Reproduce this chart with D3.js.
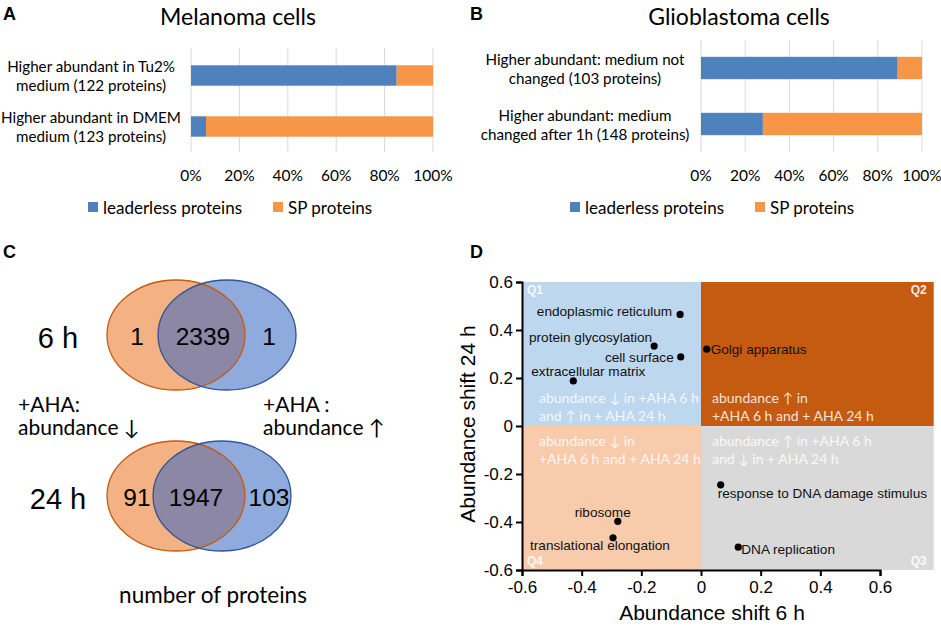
<!DOCTYPE html>
<html>
<head>
<meta charset="utf-8">
<script src="https://cdn.jsdelivr.net/npm/d3@7"></script>
<style>
  body { margin: 0; background: #fff; }
  text { font-family: Lato, "Open Sans", sans-serif; }
  .arial { font-family: "Liberation Sans", Arial, sans-serif; }
</style>
</head>
<body>
<script>
const width = 941
const height = 626

// ---- data ----
const seriesNames = ['leaderless proteins', 'SP proteins']
const seriesColors = ['#4f81bd', '#f79646']
const pctTicks = [0, 0.2, 0.4, 0.6, 0.8, 1]

const melanomaCats = [['Higher abundant in Tu2%', 'medium (122 proteins)'],
                      ['Higher abundant in DMEM', 'medium (123 proteins)']]
const melanomaLeaderless = [0.85, 0.062]

const gbmCats = [['Higher abundant: medium not', 'changed (103 proteins)'],
                 ['Higher abundant: medium', 'changed after 1h (148 proteins)']]
const gbmLeaderless = [0.89, 0.28]

const vennTimes = ['6 h', '24 h']
const vennDown = [1, 91]      // +AHA abundance down only
const vennBoth = [2339, 1947]
const vennUp = [1, 103]       // +AHA abundance up only

const goTerms = ['endoplasmic reticulum', 'protein glycosylation', 'cell surface', 'extracellular matrix',
  'Golgi apparatus', 'response to DNA damage stimulus', 'ribosome', 'translational elongation', 'DNA replication']
const shift6h = [-0.07, -0.157, -0.068, -0.428, 0.019, 0.066, -0.279, -0.295, 0.125]
const shift24h = [0.465, 0.333, 0.288, 0.188, 0.32, -0.245, -0.397, -0.466, -0.505]
const axisTicks = [-0.6, -0.4, -0.2, 0, 0.2, 0.4, 0.6]

const svg = d3.select('body').append('svg')
  .attr('width', width)
  .attr('height', height)

function letter(x, y, s) {
  svg.append('text').attr('class', 'arial').attr('x', x).attr('y', y)
    .attr('font-size', 18).attr('font-weight', 'bold').text(s)
}

// ---- panels A and B: stacked percentage bars ----
function barPanel(opt) {
  const g = svg.append('g')
  const x = d3.scaleLinear().domain([0, 1]).range(opt.xr)
  const y = d3.scaleBand().domain(d3.range(opt.cats.length)).range(opt.yr)
    .paddingInner(0.6).paddingOuter(0.3)

  g.append('text').attr('x', opt.titleX).attr('y', 16).attr('text-anchor', 'middle')
    .attr('dominant-baseline', 'central').attr('font-size', 23).text(opt.title)

  g.selectAll('line.grid').data(pctTicks).join('line').attr('class', 'grid')
    .attr('x1', d => x(d)).attr('x2', d => x(d))
    .attr('y1', opt.gridTop).attr('y2', 152)
    .attr('stroke', '#d9d9d9').attr('stroke-width', 1)

  const rows = opt.vals.map((v, i) => ({ i, parts: [[0, v], [v, 1]] }))
  const row = g.selectAll('g.row').data(rows).join('g').attr('class', 'row')
  row.selectAll('rect').data(d => d.parts.map((p, k) => ({ i: d.i, k, p }))).join('rect')
    .attr('x', d => x(d.p[0])).attr('width', d => x(d.p[1]) - x(d.p[0]))
    .attr('y', d => y(d.i)).attr('height', y.bandwidth())
    .attr('fill', d => seriesColors[d.k])

  g.selectAll('text.cat').data(opt.cats).join('text').attr('class', 'cat')
    .attr('text-anchor', 'middle').attr('font-size', 15.2)
    .each(function (lines, i) {
      const c = y(i) + y.bandwidth() / 2
      d3.select(this).selectAll('tspan').data(lines).join('tspan')
        .attr('x', opt.catX).attr('y', (d, j) => c + (j - 0.5) * 19)
        .attr('dominant-baseline', 'central').text(d => d)
    })

  g.selectAll('text.tick').data(pctTicks).join('text').attr('class', 'tick')
    .attr('x', d => x(d)).attr('y', 175).attr('text-anchor', 'middle')
    .attr('dominant-baseline', 'central').attr('font-size', 15.5)
    .text(d => d3.format('.0%')(d))

  const leg = g.selectAll('g.leg').data(seriesNames).join('g').attr('class', 'leg')
    .attr('transform', (d, i) => `translate(${opt.legX[i]},207)`)
  leg.append('rect').attr('x', 0).attr('y', -5).attr('width', 10).attr('height', 10)
    .attr('fill', (d, i) => seriesColors[i])
  leg.append('text').attr('x', 15).attr('y', 0).attr('dominant-baseline', 'central')
    .attr('font-size', 17).text(d => d)
}

barPanel({ title: 'Melanoma cells', titleX: 238, xr: [191, 433], yr: [50, 152], gridTop: 48,
  cats: melanomaCats, vals: melanomaLeaderless, catX: 91, legX: [88, 273] })
barPanel({ title: 'Glioblastoma cells', titleX: 739, xr: [701, 922], yr: [40, 152], gridTop: 40,
  cats: gbmCats, vals: gbmLeaderless, catX: 585, legX: [570, 755] })
letter(3, 20, 'A')
letter(470, 20, 'B')

// ---- panel C: Venn diagrams ----
letter(3, 258, 'C')
const vennY = d3.scaleOrdinal().domain(vennTimes).range([335, 496])
const vennOrangeX = [176, 176]
const vennBlueX = [227, 222]
const rx = 69, ry = 55
const defs = svg.append('defs')
vennTimes.forEach((t, i) => {
  const cy = vennY(t)
  const g = svg.append('g')
  defs.append('clipPath').attr('id', 'clipO' + i)
    .append('ellipse').attr('cx', vennOrangeX[i]).attr('cy', cy).attr('rx', rx).attr('ry', ry)
  g.append('ellipse').attr('cx', vennOrangeX[i]).attr('cy', cy).attr('rx', rx).attr('ry', ry)
    .attr('fill', '#f4b183')
  g.append('ellipse').attr('cx', vennBlueX[i]).attr('cy', cy).attr('rx', rx).attr('ry', ry)
    .attr('fill', '#8faadc')
  g.append('ellipse').attr('cx', vennBlueX[i]).attr('cy', cy).attr('rx', rx).attr('ry', ry)
    .attr('clip-path', `url(#clipO${i})`).attr('fill', '#8b87a4')
  g.append('ellipse').attr('cx', vennOrangeX[i]).attr('cy', cy).attr('rx', rx).attr('ry', ry)
    .attr('fill', 'none').attr('stroke', '#c55a11').attr('stroke-width', 1.3)
  g.append('ellipse').attr('cx', vennBlueX[i]).attr('cy', cy).attr('rx', rx).attr('ry', ry)
    .attr('fill', 'none').attr('stroke', '#2f5597').attr('stroke-width', 1.3)
  const nums = [[vennDown[i], 137], [vennBoth[i], i ? 196 : 203], [vennUp[i], 269]]
  g.selectAll('text.n').data(nums).join('text').attr('class', 'arial')
    .attr('x', d => d[1]).attr('y', cy + 1).attr('text-anchor', 'middle')
    .attr('dominant-baseline', 'central').attr('font-size', 24.5).text(d => d[0])
  g.append('text').attr('class', 'arial').attr('x', 58).attr('y', cy + 3)
    .attr('text-anchor', 'middle').attr('dominant-baseline', 'central')
    .attr('font-size', 29).text(t)
})
const sideLabels = [[18, ['+AHA:', 'abundance \u2193']], [263, ['+AHA :', 'abundance \u2191']]]
sideLabels.forEach(([x, lines]) => {
  const st = svg.append('g')
  st.selectAll('text').data(lines).join('text').attr('font-size', 21)
    .attr('x', x).attr('y', (d, j) => 403 + j * 23).attr('dominant-baseline', 'central').text(d => d)
})
svg.append('text').attr('x', 213).attr('y', 594).attr('text-anchor', 'middle')
  .attr('dominant-baseline', 'central').attr('font-size', 22.5).text('number of proteins')

// ---- panel D: quadrant scatter ----
letter(470, 258, 'D')
const xs = d3.scaleLinear().domain([-0.6, 0.6]).range([522, 880])
const ys = d3.scaleLinear().domain([-0.6, 0.6]).range([570, 282])
const xEdge = 0.78
const quads = [
  { name: 'Q1', x0: -0.6, x1: 0, y0: 0, y1: 0.6, fill: '#bdd7ee',
    lines: ['abundance \u2193 in +AHA 6 h', 'and \u2191 in + AHA 24 h'] },
  { name: 'Q2', x0: 0, x1: xEdge, y0: 0, y1: 0.6, fill: '#c55a11',
    lines: ['abundance \u2191 in', '+AHA 6 h and + AHA 24 h'] },
  { name: 'Q3', x0: 0, x1: xEdge, y0: -0.6, y1: 0, fill: '#d9d9d9',
    lines: ['abundance \u2191  in +AHA 6 h', 'and \u2193 in + AHA 24 h'] },
  { name: 'Q4', x0: -0.6, x1: 0, y0: -0.6, y1: 0, fill: '#f8cbad',
    lines: ['abundance \u2193 in', '+AHA 6 h and + AHA 24 h'] }
]
const gq = svg.append('g')
gq.selectAll('rect').data(quads).join('rect')
  .attr('x', d => xs(d.x0)).attr('width', d => xs(d.x1) - xs(d.x0))
  .attr('y', d => ys(d.y1)).attr('height', d => ys(d.y0) - ys(d.y1))
  .attr('fill', d => d.fill)
quads.forEach(q => {
  const top = q.y0 === 0
  const tx = q.x0 === 0 ? xs(0) + 11 : xs(-0.6) + 17
  const ty = top ? ys(0) - 29 : ys(0) + 14
  gq.append('text').attr('font-size', 14).attr('fill', '#fff').attr('fill-opacity', 0.85)
    .selectAll('tspan').data(q.lines).join('tspan')
    .attr('x', tx).attr('y', (d, j) => ty + j * 18).attr('dominant-baseline', 'central').text(d => d)
  const right = q.x0 === 0
  gq.append('text').attr('class', 'arial').attr('font-size', 12).attr('font-weight', 'bold')
    .attr('fill', '#fff').attr('fill-opacity', 0.9)
    .attr('x', right ? xs(xEdge) - 7 : xs(-0.6) + 5).attr('text-anchor', right ? 'end' : 'start')
    .attr('y', top ? ys(0.6) + 8 : ys(-0.6) - 9).attr('dominant-baseline', 'central').text(q.name)
})

const fmt = d => (Math.abs(d) < 1e-9 ? '0' : d.toFixed(1))
const xAxis = svg.append('g').attr('class', 'arial').attr('transform', `translate(0,${ys(-0.6)})`)
  .call(d3.axisBottom(xs).tickValues(axisTicks).tickFormat(fmt).tickSizeOuter(0).tickSize(6))
const yAxis = svg.append('g').attr('class', 'arial').attr('transform', `translate(${xs(-0.6)},0)`)
  .call(d3.axisLeft(ys).tickValues(axisTicks).tickFormat(fmt).tickSizeOuter(0).tickSize(6))
;[xAxis, yAxis].forEach(a => {
  a.select('.domain').attr('stroke', '#000').attr('stroke-width', 2)
  a.selectAll('.tick line').attr('stroke', '#000').attr('stroke-width', 2)
  a.selectAll('.tick text').attr('font-size', 17).attr('fill', '#000')
    .style('font-family', '"Liberation Sans", Arial, sans-serif')
})
xAxis.selectAll('.tick text').attr('dy', '0.85em')
yAxis.selectAll('.tick text').attr('x', -9)

svg.append('text').attr('class', 'arial').attr('x', 712).attr('y', 612).attr('text-anchor', 'middle')
  .attr('dominant-baseline', 'central').attr('font-size', 21).text('Abundance shift 6 h')
svg.append('text').attr('class', 'arial').attr('transform', 'translate(467,424) rotate(-90)')
  .attr('text-anchor', 'middle').attr('dominant-baseline', 'central').attr('font-size', 21)
  .text('Abundance shift 24 h')

// label offsets relative to each dot (anchor, dx, dy)
const labelPos = [['end', -8, -3], ['end', -2, -9], ['end', -7, 1], ['start', -42, -9],
  ['start', 4, 0], ['start', -3, 9], ['middle', -15, -9], ['middle', -13, 8], ['start', 3, 2]]
const pts = goTerms.map((t, i) => ({ t, x: shift6h[i], y: shift24h[i], p: labelPos[i] }))
const gp = svg.append('g')
gp.selectAll('circle').data(pts).join('circle')
  .attr('cx', d => xs(d.x)).attr('cy', d => ys(d.y)).attr('r', 3.6).attr('fill', '#000')
gp.selectAll('text').data(pts).join('text').attr('class', 'arial')
  .attr('x', d => xs(d.x) + d.p[1]).attr('y', d => ys(d.y) + d.p[2])
  .attr('text-anchor', d => d.p[0]).attr('dominant-baseline', 'central')
  .attr('font-size', 13.6).attr('fill', '#111').text(d => d.t)
</script>
</body>
</html>
